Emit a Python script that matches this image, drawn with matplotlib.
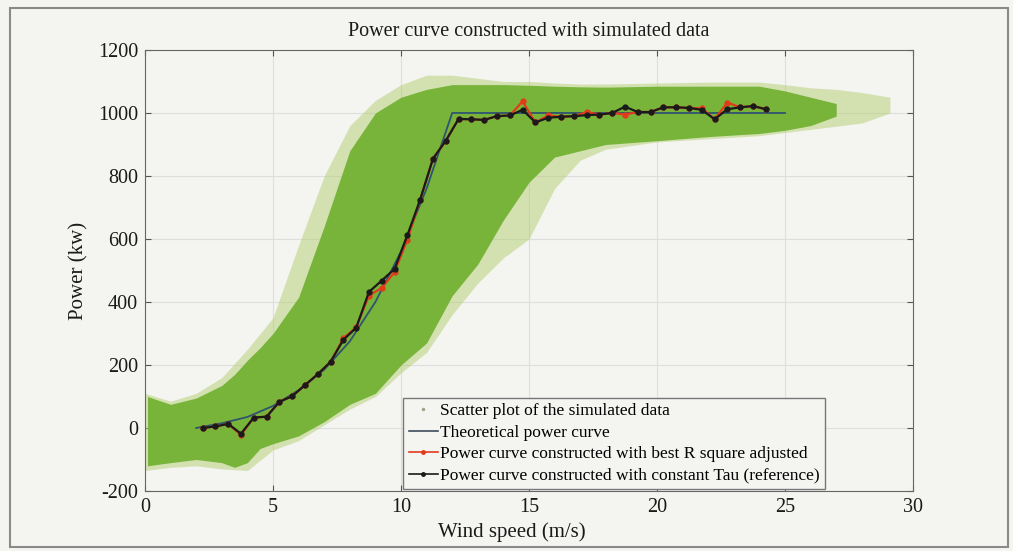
import matplotlib

matplotlib.use("Agg")
import matplotlib.pyplot as plt
from matplotlib.lines import Line2D
from matplotlib.patches import Rectangle

# ---- data (kW vs m/s) -------------------------------------------------------
# simulated cloud: dense body envelope
cloud_ws = [0.1, 1, 2, 3, 3.5, 4, 4.5, 5, 6, 7, 8, 9, 10, 11, 12, 13, 14,
            15, 16, 17, 18, 20, 22, 24, 25, 26, 27]
cloud_hi = [100, 75, 95, 135, 170, 215, 255, 300, 415, 640, 880, 1000, 1050,
            1075, 1090, 1090, 1090, 1088, 1085, 1083, 1082, 1085, 1085, 1085,
            1070, 1050, 1030]
cloud_lo = [-120, -110, -100, -110, -125, -110, -65, -50, -25, 20, 75, 110,
            200, 270, 420, 520, 660, 780, 860, 880, 900, 912, 925, 935, 945,
            960, 990]

# sparse outliers around the cloud
halo_ws = [0.0, 1, 2, 3, 4, 5, 6, 7, 8, 9, 10, 11, 12, 13, 14, 15, 16, 17,
           18, 20, 22, 24, 25, 26, 27, 28, 29.1]
halo_hi = [110, 85, 110, 160, 250, 350, 580, 800, 960, 1040, 1090, 1120,
           1120, 1110, 1100, 1100, 1095, 1092, 1092, 1095, 1098, 1098, 1090,
           1080, 1075, 1065, 1050]
halo_lo = [-135, -125, -120, -130, -135, -70, -40, 10, 60, 100, 175, 240,
           360, 460, 540, 600, 760, 850, 885, 908, 918, 928, 938, 948, 958,
           968, 1000]

theory_ws = [2, 3, 4, 5, 6, 7, 8, 9, 10, 11, 12, 25]
theory_kw = [0, 15, 35, 70, 120, 185, 275, 400, 560, 760, 1000, 1000]

bin_ws = [2.25, 2.75, 3.25, 3.75, 4.25, 4.75, 5.25, 5.75, 6.25, 6.75, 7.25,
          7.75, 8.25, 8.75, 9.25, 9.75, 10.25, 10.75, 11.25, 11.75, 12.25,
          12.75, 13.25, 13.75, 14.25, 14.75, 15.25, 15.75, 16.25, 16.75,
          17.25, 17.75, 18.25, 18.75, 19.25, 19.75, 20.25, 20.75, 21.25,
          21.75, 22.25, 22.75, 23.25, 23.75, 24.25]
tau_kw = [0, 5, 13, -18, 33, 36, 83, 101, 136, 171, 210, 280, 318, 432, 468,
          505, 612, 725, 855, 912, 981, 980, 978, 990, 992, 1010, 970, 985,
          988, 990, 993, 995, 1000, 1020, 1003, 1003, 1018, 1018, 1016, 1010,
          980, 1012, 1018, 1022, 1012]
r2adj_kw = [0, 5, 13, -22, 33, 36, 83, 101, 136, 171, 210, 285, 320, 420,
            445, 495, 598, 725, 855, 912, 981, 980, 978, 990, 992, 1037, 970,
            992, 988, 990, 1003, 995, 1000, 995, 1003, 1003, 1018, 1018, 1016,
            1015, 980, 1033, 1018, 1022, 1012]

BG = "#f4f4f1"
GREEN = "#78b43a"
HALO = "#b3cf72"
THEORY = "#2e5470"
RED = "#e23b1b"
INK = "#1a1a1a"

plt.rcParams["font.family"] = ["Liberation Serif", "DejaVu Serif"]
plt.rcParams["axes.unicode_minus"] = False

fig = plt.figure(figsize=(10.13, 5.51), dpi=100, facecolor=BG)
fig.patches.append(Rectangle((10 / 1013, 4 / 551), 998 / 1013, 539 / 551,
                             transform=fig.transFigure, fill=False,
                             edgecolor="#8a8a8a", lw=1.5))
ax = fig.add_axes([0.1431, 0.1089, 0.7582, 0.8004], facecolor=BG)

ax.fill_between(halo_ws, halo_lo, halo_hi, color=HALO, alpha=0.5, lw=0)
ax.fill_between(cloud_ws, cloud_lo, cloud_hi, color=GREEN, lw=0)
ax.plot(theory_ws, theory_kw, color=THEORY, lw=1.3)
ax.plot(bin_ws, r2adj_kw, "-o", color=RED, lw=1.6, ms=3.5)
ax.plot(bin_ws, tau_kw, "-o", color=INK, lw=1.6, ms=3.5)

ax.set_xlim(0, 30)
ax.set_ylim(-200, 1200)
ax.set_xticks([0, 5, 10, 15, 20, 25, 30])
ax.set_yticks(range(-200, 1201, 200))
ax.grid(color="#dedede", lw=0.8)
ax.set_axisbelow(True)
ax.tick_params(direction="in", top=True, right=True, length=4,
               labelsize=14.5, colors="#555555", labelcolor=INK, pad=5)
for s in ax.spines.values():
    s.set_color("#666666")

ax.set_title("Power curve constructed with simulated data", fontsize=14.5,
             color=INK, pad=10)
ax.set_xlabel("Wind speed (m/s)", fontsize=15, color=INK)
ax.set_ylabel("Power (kw)", fontsize=15, color=INK)
ax.xaxis.set_label_coords(0.477, -0.07)
ax.yaxis.set_label_coords(-0.074, 0.5)

handles = [
    Line2D([], [], ls="none", marker=".", ms=3, color="#9aa88a"),
    Line2D([], [], color="#3d4d5c", lw=1.2),
    Line2D([], [], color=RED, lw=1.2, marker="o", ms=2.5),
    Line2D([], [], color=INK, lw=1.2, marker="o", ms=2.5),
]
labels = [
    "Scatter plot of the simulated data",
    "Theoretical power curve",
    "Power curve constructed with best R square adjusted",
    "Power curve constructed with constant Tau (reference)",
]
leg = ax.legend(handles, labels, loc="lower right",
                bbox_to_anchor=(0.885, 0.005), fontsize=12.5, frameon=True,
                fancybox=False, framealpha=1, facecolor=BG,
                edgecolor="#777777", handlelength=1.7, handletextpad=0.1,
                labelspacing=0.3, borderpad=0.3, borderaxespad=0)
leg.get_frame().set_linewidth(1.0)

fig.savefig("out.png", dpi=100, facecolor=BG)
